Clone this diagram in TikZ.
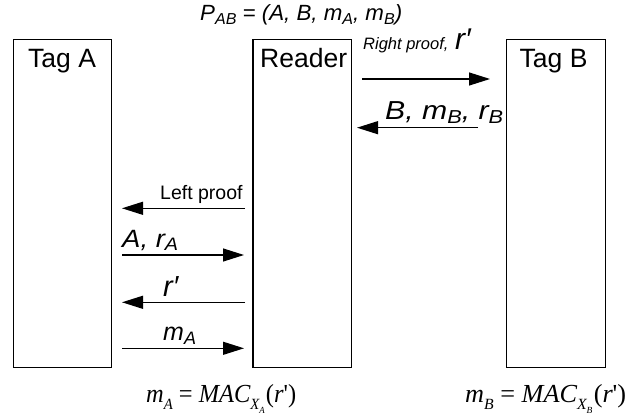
\documentclass[tikz,border=0pt]{standalone}
\usepackage{fontspec}
\setmainfont{Liberation Sans}
\newfontfamily\tnr{Liberation Serif}
\usetikzlibrary{arrows.meta}
% lowered, shrunk subscripts
\newcommand\dn[1]{\raisebox{-0.14em}{\scalebox{0.72}{#1}}}
\newcommand\tdn[1]{\raisebox{-0.28em}{\scalebox{0.6}{#1}}}
\newcommand\fs[1]{\fontsize{#1}{#1}\selectfont}
% m_X = MAC_{X_X}(r') in Times
\newcommand\macval[1]{\tnr\fs{26}\itshape m\tdn{#1}\upshape\hspace{0.25em}=\hspace{0.25em}\itshape MAC\tdn{X\tdn{#1}}\upshape\hspace{0.05em}(\itshape r\upshape\textquotesingle)}
\begin{document}
\begin{tikzpicture}[x=1pt,y=-1pt,
  box/.style={draw, line width=1.3pt, inner sep=0pt, minimum height=328.4pt},
  msg/.style={line width=1.2pt, -{Triangle[length=21pt,width=13pt]}},
  lbl/.style={anchor=base west, inner sep=0pt}]
\useasboundingbox (0,0) rectangle (644,419);

% the three parties
\node[box, minimum width=98.2pt] (tagA)   at (62.6,203.5) {};
\node[box, minimum width=98.5pt] (reader) at (302.2,203.5) {};
\node[box, minimum width=98.6pt] (tagB)   at (556,203.5) {};

\node[lbl] (tagAt)   at (28,68) {\fs{26.5}Tag A};
\node[lbl] (readert) at (260,68)  {\fs{26.5}Reader};
\node[lbl] (tagBt)   at (519.5,68) {\fs{26.5}Tag B};

% pair tuple
\node[lbl] (pab) at (200,21) {\resizebox{202pt}{\height}{\fs{22}\itshape P\dn{AB} = (A, B, m\dn{A}, m\dn{B})}};

% reader <-> tag B
\coordinate (rp1) at (362,79);  \coordinate (rp2) at (490,79);
\draw[msg] (rp1) -- (rp2);
\node[lbl] (rpt) at (363,50) {\fs{16.5}\itshape Right proof,};
\node[lbl] (rpr) at (455,50) {\fs{30}\itshape r′};

\coordinate (bm1) at (478,127.7); \coordinate (bm2) at (357,127.7);
\draw[msg] (bm1) -- (bm2);
\node[lbl] (bmt) at (385,120) {\resizebox{118pt}{\height}{\fs{26}\itshape B, m\dn{B}, r\dn{B}}};

% reader <-> tag A
\coordinate (lp1) at (245,208.3); \coordinate (lp2) at (122,208.3);
\draw[msg] (lp1) -- (lp2);
\node[lbl] (lpt) at (160,199.5) {\fs{19.5}Left proof};

\coordinate (ar1) at (122,255); \coordinate (ar2) at (244,255);
\draw[msg] (ar1) -- (ar2);
\node[lbl] (art) at (122,247.5) {\resizebox{56pt}{\height}{\fs{25}\itshape A, r\dn{A}}};

\coordinate (rr1) at (245,302.3); \coordinate (rr2) at (122,302.3);
\draw[msg] (rr1) -- (rr2);
\node[lbl] (rrt) at (163,296.5) {\fs{29}\itshape r′};

\coordinate (ma1) at (122,348.3); \coordinate (ma2) at (244,348.3);
\draw[msg] (ma1) -- (ma2);
\node[lbl] (mat) at (163,340.5) {\fs{25}\itshape m\dn{A}};

% MAC values
\node[lbl] (fa) at (146,402) {\resizebox{150pt}{\height}{\macval{A}}};
\node[lbl] (fb) at (465,402) {\resizebox{161pt}{\height}{\macval{B}}};
\end{tikzpicture}
\end{document}
